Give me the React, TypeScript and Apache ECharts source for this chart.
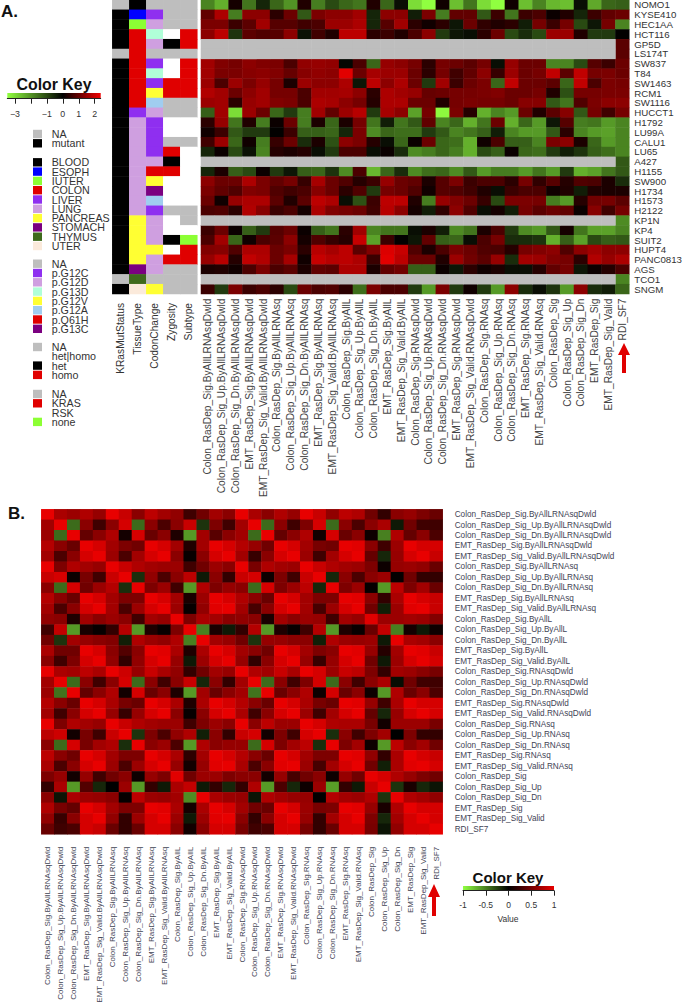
import React, { useEffect, useRef } from "react";
import * as echarts from "echarts";

const cellLines = ["NOMO1","KYSE410","HEC1AA","HCT116","GP5D","LS174T","SW837","T84","SW1463","RCM1","SW1116","HUCCT1","H1792","LU99A","CALU1","LU65","A427","H1155","SW900","H1734","H1573","H2122","KP1N","KP4","SUIT2","HUPT4","PANC0813","AGS","TCO1","SNGM"];
const signatures = ["Colon_RasDep_Sig.ByAllLRNAsqDwld","Colon_RasDep_Sig_Up.ByAllLRNAsqDwld","Colon_RasDep_Sig_Dn.ByAllLRNAsqDwld","EMT_RasDep_Sig.ByAllLRNAsqDwld","EMT_RasDep_Sig_Valid.ByAllLRNAsqDwld","Colon_RasDep_Sig.ByAllLRNAsq","Colon_RasDep_Sig_Up.ByAllLRNAsq","Colon_RasDep_Sig_Dn.ByAllLRNAsq","EMT_RasDep_Sig.ByAllLRNAsq","EMT_RasDep_Sig_Valid.ByAllLRNAsq","Colon_RasDep_Sig.ByAllL","Colon_RasDep_Sig_Up.ByAllL","Colon_RasDep_Sig_Dn.ByAllL","EMT_RasDep_Sig.ByAllL","EMT_RasDep_Sig_Valid.ByAllL","Colon_RasDep_Sig.RNAsqDwld","Colon_RasDep_Sig_Up.RNAsqDwld","Colon_RasDep_Sig_Dn.RNAsqDwld","EMT_RasDep_Sig.RNAsqDwld","EMT_RasDep_Sig_Valid.RNAsqDwld","Colon_RasDep_Sig.RNAsq","Colon_RasDep_Sig_Up.RNAsq","Colon_RasDep_Sig_Dn.RNAsq","EMT_RasDep_Sig.RNAsq","EMT_RasDep_Sig_Valid.RNAsq","Colon_RasDep_Sig","Colon_RasDep_Sig_Up","Colon_RasDep_Sig_Dn","EMT_RasDep_Sig","EMT_RasDep_Sig_Valid","RDI_SF7"];
const annotationNames = ["KRasMutStatus","TissueType","CodonChange","Zygosity","Subtype"];

const kras = ["NA","mutant","mutant","mutant","mutant","NA","mutant","mutant","mutant","mutant","mutant","mutant","mutant","mutant","mutant","mutant","mutant","mutant","mutant","mutant","mutant","mutant","mutant","mutant","mutant","mutant","mutant","mutant","NA","mutant"];
const tissue = ["BLOOD","ESOPH","IUTER","COLON","COLON","COLON","COLON","COLON","COLON","COLON","COLON","LIVER","LUNG","LUNG","LUNG","LUNG","LUNG","LUNG","LUNG","LUNG","LUNG","LUNG","PANCREAS","PANCREAS","PANCREAS","PANCREAS","PANCREAS","STOMACH","THYMUS","UTER"];
const codon = ["NA","p.G12C","p.G12D","p.G13D","p.G12D","NA","p.G12C","p.G13D","p.G12C","p.G12V","p.G12A","p.G12D","p.G12C","p.G12C","p.G12C","p.G12C","p.G12D","p.Q61H","p.G12V","p.G13C","p.G12A","p.G12C","p.G12D","p.G12D","p.G12D","p.G12V","p.G12D","p.G12D","NA","p.G12V"];
const zygosity = ["NA","NA","NA","het|homo","het","NA","het|homo","het|homo","homo","homo","NA","NA","het|homo","het|homo","NA","homo","het","homo","het|homo","het|homo","het|homo","NA","het|homo","het|homo","het","het|homo","homo","NA","NA","NA"];
const subtype = ["NA","NA","NA","KRAS","KRAS","NA","KRAS","KRAS","KRAS","KRAS","NA","NA","RSK","RSK","NA","RSK","RSK","RSK","RSK","RSK","RSK","NA","NA","RSK","none","KRAS","KRAS","NA","NA","NA"];

const exprNOMO1 = [-1.8,-2.4,.2,-1.6,-.5,-1.4,-2,.3,-1.7,-1,-1.4,-1.6,.3,-1.4,-.2,-3,-3.5,.15,-2.6,-1.6,-3,-3.5,.15,-2.6,-1.8,-2.5,-2.6,-.2,-2.3,-1.4,-1.3];
const exprKYSE410 = [.9,1.6,-1.7,1.3,1.3,.4,1,-1.2,1.15,1.3,1.3,1.5,-.5,1.3,1.3,-.4,1.15,-1.7,.9,.9,-1.2,.55,-1.6,.55,.7,.1,.3,-.5,.55,.9,1];
const exprHEC1AA = [1.15,1.15,.55,.85,1.5,.8,.8,.6,.7,1.45,1.45,1.6,-.5,.8,1.5,.4,.15,.4,-.3,1,.45,.3,.4,-.4,1.1,.55,1.1,-1,-.3,1.1,-1.8];
const exprHCT116 = [1.3,1.75,-.7,.85,.75,.8,1.3,-.25,.6,.3,1.75,1.75,.4,.55,.3,.7,1.3,-.8,-.3,-.2,.4,1,-1,-.6,-1,1.45,1.45,.3,-.8,-.8,0];
const exprSW837 = [1.5,1.2,1.1,1.3,1.2,1.15,.7,1.35,1.4,1.35,-.1,.7,-1.4,1.4,1.3,1.1,.4,1.1,1,.85,1.1,-.2,1.4,1,1,-1.8,-1.8,-1,.8,.55,1];
const exprT84 = [1.5,1.15,1.15,1.25,1.3,1.2,.95,1.25,1.35,1.3,2.1,1,1.55,1.45,1.45,1,.4,1.1,.6,.9,1.3,.5,1.45,1,1.1,1.8,.85,1.8,1.1,1.15,1];
const exprSW1463 = [1.45,.7,1.45,1.15,1.4,1.1,.25,1.45,1.3,1.3,1.6,-.3,1.75,1.3,1.6,1,-.8,1.5,.55,1,1.15,-1.4,1.8,1,1,.85,-1.4,1.8,.7,1.15,1.1];
const exprRCM1 = [1.65,1.5,1,1.3,1.5,1.1,1.1,.7,1.5,1.5,1.55,1.3,.4,1.6,1.5,1.4,.95,1,1.1,1.1,1.15,1.2,1,1,1.1,.3,-1.1,1.1,1.1,1.15,1.15];
const exprSW1116 = [1.45,1.5,.4,1.4,1.5,1.2,1.15,.7,1.6,1.55,1.3,1.1,.35,1.6,1.6,1,1,.3,1.1,1.15,1.1,1.1,1,1.25,1.25,-1.2,-1.6,.75,1.15,1.3,1.3];
const exprHUCCT1 = [-1.3,1.5,-3,1.45,1,-1.4,-.8,-1.7,1.5,.9,1.45,1.7,-.8,1.55,1.3,-2.2,1.1,-3.4,1.15,.35,-2.4,-1.8,-2.1,1,.3,.85,1.25,-1.2,1.1,.6,1.1];
const exprH1792 = [.4,1.4,-1.6,.3,-1.7,.1,1,-1.7,.25,-1.4,.25,1.1,-1.6,-.4,-1.6,-1.2,.9,-1.8,-1.4,-2.4,-1.6,1,-2.4,-1.4,-2.1,-.3,.8,-1.7,-1.6,-2.1,-1.8];
const exprLU99A = [.15,.55,-1.2,-.8,-.8,0,.55,-1.3,-1.3,-1.4,-.5,1.15,-1.9,-1.4,-1.5,-1.5,-.8,-1.2,-1.8,-1.6,-1.3,-.4,-1.8,-2.1,-2.1,-1.2,.4,-1.8,-2.1,-2.2,-1.8];
const exprCALU1 = [.6,1.45,-1.4,.15,-1.7,.5,1,-.6,.25,-1.1,1.3,1.15,.35,-.2,-1.4,.1,1,-1.4,-1.5,-2.4,.15,.7,-1.3,-1.3,-1.8,1.15,1.3,.25,-1.4,-2.1,-1.8];
const exprLU65 = [-.5,.1,-1,-.25,-1.8,.35,.25,.35,-.2,-.8,.7,.7,-.2,.1,-.6,-1.9,-1.7,-1.4,-1.7,-2.4,-1,-1.3,.1,-1.4,-1.5,-.8,-.4,-.7,-1.3,-1.5,-1.8];
const exprH1155 = [-.5,.25,-1.3,-1,.1,-.8,-.3,-1.3,-1.4,-.7,-1.9,.7,-2.5,-1.4,-.6,-1.9,-1.5,-1.4,-1.9,-1.2,-2.1,-1.7,-1.7,-2.1,-1.6,-2.1,-.8,-2.4,-2.2,-1.6,-1.2];
const exprSW900 = [1.3,1,1,1.6,1.15,.9,1.1,.5,1.55,1,.75,.35,.55,1.4,1,.9,.25,.8,1.15,.55,.7,.7,.4,1.1,.45,.8,.35,.75,.7,.25,-.6];
const exprH1734 = [1.15,.9,.75,1.2,1.15,.75,.6,.7,1.25,1,.4,.75,-.8,1.1,1,.75,.15,.8,.75,.6,.3,-.2,.55,.7,.7,.15,.3,-.4,.3,.25,.25];
const exprH1573 = [1,.15,1.4,1.6,1.6,.85,.3,.85,1.75,1.6,-.2,-1.1,.55,1.75,1.75,.3,-1.7,1.4,1.2,1,.5,-1,1.15,1.15,1.1,-1.7,-2.1,.35,1.05,1.1,.85];
const exprH2122 = [.7,.75,.4,1.65,1.25,.55,.7,.2,1.6,1.2,1.1,1,.6,1.7,1.3,.2,-.4,.45,1.3,.75,-.2,.2,-.4,1.1,.85,1,.9,.1,1.25,.6,1.1];
const exprKP4 = [.55,1,.1,-1.3,-.8,.8,1,.1,-1.3,-1.6,.4,1.5,-1.8,-1.6,-1.6,-.2,.25,-.4,-1.9,-1.6,.25,.7,-.8,-1.9,-2.1,-1.2,.2,-1.6,-2.2,-2.2,-1.8];
const exprSUIT2 = [.7,1.5,-1.4,.15,.7,.85,1.3,.2,.75,.5,.35,1.85,-2.2,.55,0,-.3,.9,-1.3,-1.4,-.2,.7,1.1,-.6,-.6,-.7,-2.4,-1.3,-2.2,-1,-1.3,-1.2];
const exprHUPT4 = [1.2,1.25,.75,1.6,1.6,1,1.15,.4,1.7,1.55,1.75,.85,1.2,2.05,1.85,.75,.25,.7,1.15,1,.75,.7,.35,1.1,1.2,1.3,.75,1.3,1.5,1.3,1.3];
const exprPANC0813 = [1.4,1.7,.35,1.8,1.65,1,1.55,.15,1.85,1.7,1.75,1.6,.55,2.1,1.75,1,1,.3,1.45,1.05,.85,1.4,-.6,1.5,1.45,1.2,1.1,.4,1.65,1.4,1.6];
const exprAGS = [.25,.3,.15,.7,1.15,.7,.85,.25,.9,.85,1.6,1.6,.25,.9,1.05,-1.3,-1.3,.1,-.3,.4,.15,.25,-.2,-.2,.35,.9,1.1,-.3,.1,.35,.7];
const exprSNGM = [.55,-.8,1.15,.55,.7,.4,-1,1,.7,.75,.4,-1.5,1.15,.7,.7,-.8,-2.1,1.15,-.8,.15,-.8,-2.1,1.3,-.6,-.2,-.7,-2.1,1.3,-.6,-.4,-1.4];

// Rows with only the RDI_SF7 column measured: the other columns are NA.
const rdiOnly: Record<string, number> = { GP5D: .85, LS174T: .85, A427: -1.2, KP1N: -1.9, TCO1: -1.8 };

const expression: Record<string, number[]> = {
  NOMO1: exprNOMO1, KYSE410: exprKYSE410, HEC1AA: exprHEC1AA, HCT116: exprHCT116, SW837: exprSW837, T84: exprT84,
  SW1463: exprSW1463, RCM1: exprRCM1, SW1116: exprSW1116, HUCCT1: exprHUCCT1, H1792: exprH1792, LU99A: exprLU99A,
  CALU1: exprCALU1, LU65: exprLU65, H1155: exprH1155, SW900: exprSW900, H1734: exprH1734, H1573: exprH1573,
  H2122: exprH2122, KP4: exprKP4, SUIT2: exprSUIT2, HUPT4: exprHUPT4, PANC0813: exprPANC0813, AGS: exprAGS, SNGM: exprSNGM,
};

const corr00 = [1,.68,.62,.7,.6,.95,.8,.55,.75,.65,.58,.25,.45,.65,.55,1,.68,.55,.7,.6,.95,.8,.58,.75,.7,.45,.2,.55,.6,.5,.42];
const corr01 = [.65,1,-.42,.55,.25,.55,.85,-.42,.55,.3,.55,.8,-.2,.5,.25,.65,1,-.42,.55,.25,.5,.85,-.42,.55,.3,.55,.68,-.1,.45,.25,.25];
const corr02 = [.62,-.42,1,.4,.55,.7,.08,.85,.42,.55,.12,-.6,.65,.35,.55,.65,-.42,1,.4,.55,.7,.07,.85,.42,.55,.05,-.5,.7,.4,.55,.3];
const corr03 = [.72,.55,.42,1,.85,.65,.5,.45,1,.85,.65,.13,.65,1,.85,.72,.6,.45,1,.85,.65,.48,.45,1,.9,.55,.25,.62,1,.85,.85];
const corr04 = [.65,.3,.55,.85,1,.62,.3,.65,.85,1,.55,.03,.55,.85,1,.65,.22,.55,.85,1,.62,.25,.65,.85,1,.4,-.15,.6,.85,1,.8];
const corr05 = [.95,.5,.7,.65,.6,1,.8,.7,.65,.62,.62,.25,.45,.62,.55,.95,.48,.7,.65,.62,1,.8,.7,.65,.62,.5,.05,.6,.62,.58,.42];
const corr06 = [.8,.85,.05,.48,.25,.8,1,-.18,.58,.3,.55,.75,-.1,.55,.2,.8,.85,.05,.5,.25,.8,1,-.15,.55,.3,.55,.62,.02,.45,.2,.2];
const corr07 = [.55,-.42,.85,.45,.62,.72,-.18,1,.5,.62,.25,-.6,.7,.5,.6,.55,-.42,.85,.5,.62,.75,-.15,1,.5,.62,.02,-.6,.75,.5,.65,.42];
const corr08 = [.72,.55,.42,1,.85,.65,.5,.5,1,.85,.65,.1,.62,1,.85,.7,.55,.42,1,.85,.65,.5,.5,1,.9,.55,.2,.68,1,.85,.8];
const corr09 = [.65,.3,.55,.85,1,.65,.3,.62,.85,1,.62,.03,.58,.9,1,.65,.28,.55,.85,1,.65,.28,.62,.85,1,.45,-.12,.62,.9,1,.8];
const corr10 = [.58,.55,.12,.65,.55,.62,.55,.25,.65,.6,1,.5,.68,.65,.55,.58,.55,.1,.65,.55,.62,.6,.25,.65,.6,.9,.62,.62,.65,.62,.52];
const corr11 = [.25,.78,-.6,.1,.03,.2,.72,-.6,.12,.03,.5,1,-.5,.1,-.1,.2,.72,-.6,.12,.03,.25,.72,-.6,.12,.03,.42,.78,-.5,.08,-.1,.05];
const corr12 = [.45,-.2,.65,.6,.55,.52,-.12,.7,.62,.58,.7,-.5,1,.65,.6,.45,-.2,.6,.6,.55,.55,-.12,.7,.62,.6,.62,-.1,1,.68,.65,.55];
const corr13 = [.68,.45,.45,1,.85,.55,.33,.55,1,.9,.68,.12,.68,1,.85,.65,.55,.45,1,.85,.65,.5,.55,1,.9,.6,.15,.65,1,.9,.8];
const corr14 = [.55,.25,.5,.85,1,.58,.2,.58,.85,1,.6,-.1,.62,.85,1,.6,.2,.55,.85,1,.6,.22,.6,.85,1,.45,-.1,.62,.85,1,.85];
const corr15 = [1,.68,.65,.75,.68,1,.82,.6,.8,.68,.58,.2,.45,.65,.6,1,.7,.65,.8,.68,1,.85,.62,.8,.75,.5,.2,.65,.62,.55,.48];
const corr16 = [.65,1,-.42,.55,.25,.55,.85,-.42,.55,.25,.55,.8,-.15,.55,.2,.65,1,-.42,.55,.25,.5,.85,-.42,.55,.25,.55,.68,-.05,.45,.25,.25];
const corr17 = [.62,-.45,1,.4,.55,.7,.07,.85,.42,.55,.12,-.6,.65,.42,.55,.65,-.45,1,.42,.55,.7,.05,.85,.42,.55,.05,-.6,.7,.42,.55,.3];
const corr18 = [.72,.55,.42,1,.85,.68,.48,.42,1,.85,.68,.12,.68,1,.85,.72,.55,.42,1,.85,.68,.48,.42,1,.9,.6,.25,.68,1,.85,.85];
const corr19 = [.65,.25,.55,.85,1,.6,.22,.6,.85,1,.55,.03,.55,.85,1,.68,.25,.55,.85,1,.62,.25,.65,.85,1,.4,-.15,.6,.85,1,.85];
const corr20 = [1,.5,.7,.65,.6,1,.8,.7,.65,.62,.62,.25,.5,.62,.55,1,.55,.75,.62,.62,1,.85,.7,.68,.68,.48,.07,.62,.62,.62,.48];
const corr21 = [.75,.82,.07,.48,.25,.8,1,-.2,.5,.3,.58,.7,-.12,.55,.2,.8,.85,.07,.5,.25,.85,1,-.18,.55,.25,.5,.65,0,.5,.2,.2];
const corr22 = [.55,-.42,.85,.48,.65,.7,-.18,1,.55,.62,.3,-.6,.7,.55,.6,.6,-.42,.85,.5,.65,.75,-.18,1,.5,.65,.05,-.6,.75,.55,.65,.45];
const corr23 = [.75,.55,.45,1,.85,.65,.5,.5,1,.85,.68,.18,.65,1,.85,.72,.55,.42,1,.85,.65,.5,.5,1,.9,.58,.2,.68,.95,.85,.8];
const corr24 = [.68,.3,.55,.85,1,.62,.3,.62,.85,1,.6,.07,.6,.9,1,.68,.3,.55,.9,1,.62,.28,.65,.85,1,.45,-.12,.68,.9,1,.85];
const corr25 = [.5,.6,.07,.6,.25,.45,.55,.05,.6,.5,.9,.45,.62,.62,.5,.55,.55,.07,.6,.28,.45,.55,.05,.6,.45,1,.85,.7,.6,.5,.45];
const corr26 = [.2,.68,-.6,.33,-.15,0,.62,-.6,.2,-.1,.68,.78,-.1,.2,-.15,.2,.7,-.6,.3,-.15,.05,.62,-.62,.2,-.1,.8,1,-.2,.1,-.15,-.08];
const corr27 = [.55,-.08,.68,.62,.6,.55,.02,.75,.62,.6,.65,-.55,1,.68,.62,.6,-.08,.7,.65,.6,.6,0,.72,.65,.62,.7,-.2,1,.7,.65,.58];
const corr28 = [.7,.48,.4,1,.85,.65,.5,.5,1,.9,.68,.08,.68,1,.85,.65,.45,.42,1,.85,.62,.48,.5,.95,.9,.6,.1,.7,1,.85,.85];
const corr29 = [.58,.22,.55,.85,1,.58,.2,.62,.85,1,.62,-.1,.62,.9,1,.55,.2,.55,.85,1,.6,.2,.65,.85,1,.5,-.15,.65,.85,1,.85];
const corr30 = [.42,.25,.3,.85,.8,.42,.2,.42,.85,.85,.55,.07,.55,.85,.85,.48,.25,.3,.85,.85,.48,.2,.42,.85,.85,.48,-.08,.58,.85,.85,1];
const correlation = [corr00,corr01,corr02,corr03,corr04,corr05,corr06,corr07,corr08,corr09,corr10,corr11,corr12,corr13,corr14,corr15,corr16,corr17,corr18,corr19,corr20,corr21,corr22,corr23,corr24,corr25,corr26,corr27,corr28,corr29,corr30];

const legendMutation = ["NA","mutant"];
const legendTissue = ["BLOOD","ESOPH","IUTER","COLON","LIVER","LUNG","PANCREAS","STOMACH","THYMUS","UTER"];
const legendCodon = ["NA","p.G12C","p.G12D","p.G13D","p.G12V","p.G12A","p.Q61H","p.G13C"];
const legendZygosity = ["NA","het|homo","het","homo"];
const legendSubtype = ["NA","KRAS","RSK","none"];
const exprKeyTicks = [-3,-2,-1,0,1,2];
const exprKeyLabels = [-3,-1,0,1,2];
const corrKeyTicks = [-1,-.5,0,.5,1];

const colours: Record<string, string> = {
  "NA":"#bebebe", mutant:"#000000", BLOOD:"#000000", ESOPH:"#0000ff", IUTER:"#8cff34", COLON:"#e00000", LIVER:"#8f2ff0",
  LUNG:"#cf9fe0", PANCREAS:"#ffff33", STOMACH:"#7b0080", THYMUS:"#3f6a1c", UTER:"#fbeadb", "p.G12C":"#8f2ff0", "p.G12D":"#cf9fe0",
  "p.G13D":"#b0ffd8", "p.G12V":"#ffff33", "p.G12A":"#a0cdf0", "p.Q61H":"#e00000", "p.G13C":"#7b0080", "het|homo":"#ffffff",
  het:"#000000", homo:"#e00000", KRAS:"#e00000", RSK:"#ffffff", none:"#8cff34",
};
const colourKeys = Object.keys(colours);

const FONT = "Liberation Sans";
const GREEN = [144, 255, 64];

// Colour ramp with black at value 0, sampled evenly across [min, max]; red saturates at redCap.
function ramp(min: number, max: number, red: number, redCap: number) {
  const out: string[] = [];
  const n = 120;
  for (let i = 0; i <= n; i++) {
    const v = min + ((max - min) * i) / n;
    if (v < 0) {
      const t = v / min;
      out.push(`rgb(${Math.round(GREEN[0] * t)},${Math.round(GREEN[1] * t)},${Math.round(GREEN[2] * t)})`);
    } else {
      out.push(`rgb(${Math.min(redCap, Math.round((red * v) / max))},0,0)`);
    }
  }
  return out;
}

function swatchGraphic() {
  const groups: [string[], number][] = [[legendMutation, 134], [legendTissue, 162.3], [legendCodon, 263.7], [legendZygosity, 347], [legendSubtype, 394]];
  const els: any[] = [];
  groups.forEach(([names, top]) => {
    names.forEach((name, i) => {
      const y = top + 9.3 * i;
      els.push({ type: "rect", shape: { x: 33, y: y - 4.2, width: 9, height: 8.4 }, style: { fill: colours[name] } });
      els.push({ type: "text", x: 51.7, y, style: { text: name, font: `10.7px ${FONT}`, fill: "#333", verticalAlign: "middle", textAlign: "left" } });
    });
  });
  return els;
}

function arrow(cx: number, tip: number, neck: number, end: number) {
  return { type: "polygon", shape: { points: [[cx, tip], [cx + 6, neck], [cx + 2, neck], [cx + 2, end], [cx - 2, end], [cx - 2, neck], [cx - 6, neck]] }, style: { fill: "#e00000" } };
}

function gradientBar(x: number, y: number, width: number, height: number, zeroAt: number, red: string) {
  return {
    type: "rect", shape: { x, y, width, height }, z: 0,
    style: { fill: new echarts.graphic.LinearGradient(0, 0, 1, 0, [
      { offset: 0, color: "#90ff40" }, { offset: zeroAt, color: "#000000" }, { offset: 1, color: red },
    ]) },
  };
}

function buildOption() {
  const annotationData: number[][] = [];
  [kras, tissue, codon, zygosity, subtype].forEach((col, c) => {
    col.forEach((name, r) => annotationData.push([c, r, colourKeys.indexOf(name)]));
  });
  const exprData: number[][] = [];
  const naData: number[][] = [];
  cellLines.forEach((line, r) => {
    const row = expression[line];
    signatures.forEach((_, c) => {
      if (row) exprData.push([c, r, row[c]]);
      else if (c === signatures.length - 1) exprData.push([c, r, rdiOnly[line]]);
      else naData.push([c, r, colourKeys.indexOf("NA")]);
    });
  });
  const corrData: number[][] = [];
  correlation.forEach((row, r) => row.forEach((v, c) => corrData.push([c, r, v])));

  const hidden = { show: false };
  const catX = (gridIndex: number, data: string[], fontSize: number, margin: number, color: string) => ({
    type: "category", gridIndex, data, position: "bottom", axisLine: hidden, axisTick: hidden, splitArea: hidden, splitLine: hidden,
    axisLabel: { interval: 0, rotate: 90, fontSize, margin, color, fontFamily: FONT, hideOverlap: false },
  });
  const catY = (gridIndex: number, data: string[], show: boolean, fontSize = 9, margin = 5, color = "#333") => ({
    type: "category", gridIndex, data, inverse: true, position: "right", axisLine: hidden, axisTick: hidden, splitArea: hidden, splitLine: hidden,
    axisLabel: { show, interval: 0, fontSize, margin, color, fontFamily: FONT, hideOverlap: false },
  });
  const keyAxis = (gridIndex: number, min: number, max: number, ticks: number[], labels: number[], fontSize: number, margin: number, fmt: (v: number) => string) => ({
    type: "value", gridIndex, min, max, position: "bottom", splitLine: hidden,
    axisLine: { show: true, onZero: false, lineStyle: { color: "#222", width: 1 } },
    axisTick: { show: true, length: 5, customValues: ticks, lineStyle: { color: "#222", width: 1 } },
    axisLabel: { customValues: labels, fontSize, margin, color: "#333", fontFamily: FONT, formatter: fmt, showMinLabel: true, showMaxLabel: true },
  });

  return {
    animation: false,
    backgroundColor: "#ffffff",
    grid: [
      { left: 112.3, top: 0, width: 85, height: 294 },
      { left: 201, top: 0, width: 429.5, height: 294 },
      { left: 41.3, top: 509.3, width: 401.4, height: 325 },
      { left: 7.3, top: 93, width: 93.4, height: 5.7 },
      { left: 463, top: 886, width: 91, height: 4.7 },
    ],
    xAxis: [
      catX(0, annotationNames, 10.2, 9, "#333"),
      catX(1, signatures, 10.2, 4.5, "#444"),
      catX(2, signatures, 8, 12.5, "#3f4455"),
      keyAxis(3, -3.48, 2.375, exprKeyTicks, exprKeyLabels, 8.8, 11, (v: number) => String(v).replace("-", "\u2212")),
      keyAxis(4, -1, 1, corrKeyTicks, corrKeyTicks, 8.5, 10, (v: number) => String(v)),
    ],
    yAxis: [
      catY(0, cellLines, false),
      catY(1, cellLines, true, 9.7, 5, "#333"),
      catY(2, signatures, true, 8.2, 12, "#3f4455"),
      { type: "category", gridIndex: 3, data: ["key"], show: false },
      { type: "category", gridIndex: 4, data: ["key"], show: false },
    ],
    visualMap: [
      {
        type: "piecewise", show: false, dimension: 2, seriesIndex: [0, 2],
        pieces: colourKeys.map((k, i) => ({ value: i, color: colours[k] })),
      },
      { type: "continuous", show: false, dimension: 2, seriesIndex: 1, min: -3.48, max: 2.375, inRange: { color: ramp(-3.48, 2.375, 255, 255) } },
      { type: "continuous", show: false, dimension: 2, seriesIndex: 3, min: -1, max: 1, inRange: { color: ramp(-1, 1, 250, 232) } },
    ],
    series: [
      { type: "heatmap", name: "Annotations", xAxisIndex: 0, yAxisIndex: 0, data: annotationData, silent: true },
      { type: "heatmap", name: "Signature scores", xAxisIndex: 1, yAxisIndex: 1, data: exprData, silent: true },
      { type: "heatmap", name: "NA", xAxisIndex: 1, yAxisIndex: 1, data: naData, silent: true },
      { type: "heatmap", name: "Correlation", xAxisIndex: 2, yAxisIndex: 2, data: corrData, silent: true },
      { type: "line", xAxisIndex: 3, yAxisIndex: 3, data: [], silent: true },
      { type: "line", xAxisIndex: 4, yAxisIndex: 4, data: [], silent: true },
    ],
    graphic: { elements: [
      { type: "text", x: 1, y: 11.5, style: { text: "A.", font: `bold 17px ${FONT}`, fill: "#111", verticalAlign: "middle" } },
      { type: "text", x: 8, y: 513, style: { text: "B.", font: `bold 17px ${FONT}`, fill: "#111", verticalAlign: "middle" } },
      { type: "text", x: 54, y: 84, style: { text: "Color Key", font: `bold 15.9px ${FONT}`, fill: "#111", textAlign: "center", verticalAlign: "middle" } },
      gradientBar(7.3, 93, 93.4, 5.7, 3.48 / 5.855, "#f00000"),
      { type: "text", x: 508, y: 877, style: { text: "Color Key", font: `bold 15px ${FONT}`, fill: "#111", textAlign: "center", verticalAlign: "middle" } },
      gradientBar(463, 886, 91, 4.7, 0.5, "#e80000"),
      { type: "text", x: 508, y: 919, style: { text: "Value", font: `8.5px ${FONT}`, fill: "#333", textAlign: "center", verticalAlign: "middle" } },
      ...swatchGraphic(),
      arrow(624, 343, 355, 373),
      arrow(434, 884, 897, 916),
    ] },
  };
}

export default function App() {
  const ref = useRef<HTMLDivElement>(null);
  useEffect(() => {
    document.body.style.margin = "0";
    const chart = echarts.init(ref.current!, undefined, { renderer: "svg" });
    chart.setOption(buildOption() as any);
    return () => chart.dispose();
  }, []);
  return <div ref={ref} style={{ width: 685, height: 1006 }} />;
}
